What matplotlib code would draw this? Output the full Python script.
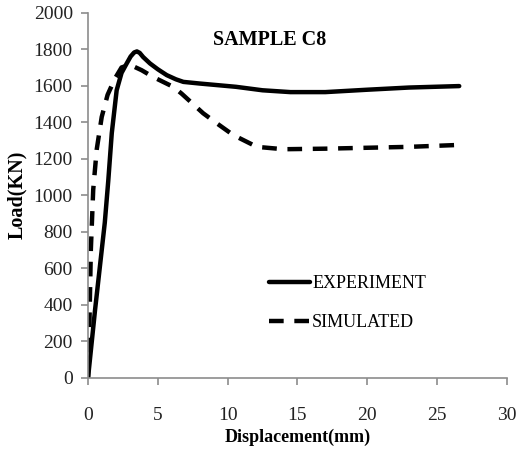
import matplotlib.pyplot as plt

# Experiment curve (displacement mm, load kN)
exp_x = [0, 0.5, 1.2, 1.45, 1.7, 2.05, 2.4, 2.77, 3.05, 3.3, 3.5, 3.7, 3.95, 4.44, 5.0, 5.64, 6.3, 6.83, 8.0, 10.6, 12.5, 14.5, 17.0, 20.0, 23.0, 26.6]
exp_y = [0, 370, 850, 1080, 1340, 1575, 1670, 1722, 1760, 1782, 1788, 1780, 1757, 1722, 1690, 1658, 1635, 1621, 1612, 1594, 1575, 1565, 1565, 1578, 1590, 1598]

# Simulated curve
sim_x = [0, 0.1, 0.2, 0.37, 0.62, 0.98, 1.4, 1.93, 2.4, 3.0, 3.84, 4.66, 6.1, 6.7, 8.25, 9.3, 10.4, 12.1, 14.0, 17.0, 20.0, 23.0, 26.4]
sim_y = [0, 300, 700, 1030, 1250, 1429, 1550, 1640, 1700, 1715, 1685, 1648, 1594, 1557, 1449, 1390, 1330, 1265, 1252, 1255, 1260, 1265, 1275]

x_ticks = [0, 5, 10, 15, 20, 25, 30]
y_ticks = [0, 200, 400, 600, 800, 1000, 1200, 1400, 1600, 1800, 2000]

plt.rcParams['font.family'] = ['Liberation Serif', 'DejaVu Serif']

fig = plt.figure(figsize=(5.21, 4.51), dpi=100)
ax = fig.add_axes([0.169, 0.1625, 0.8035, 0.8093])

ax.plot(exp_x, exp_y, color='black', lw=3.2, solid_capstyle='round',
        solid_joinstyle='round', label='EXPERIMENT')
ax.plot(sim_x, sim_y, color='black', lw=3.2, linestyle=(0, (3.3, 2.4)),
        dash_joinstyle='round', label='SIMULATED')

ax.set_xlim(0, 30)
ax.set_ylim(0, 2000)
ax.set_xticks(x_ticks)
ax.set_yticks(y_ticks)

for s in ['top', 'right']:
    ax.spines[s].set_visible(False)
for s in ['left', 'bottom']:
    ax.spines[s].set_color('#8c8c8c')
    ax.spines[s].set_linewidth(1.2)

ax.tick_params(axis='both', colors='#8c8c8c', labelcolor='#222222', labelsize=14, length=5, width=1.2)
ax.tick_params(axis='x', pad=16)
ax.tick_params(axis='y', pad=6)

ax.set_xlabel('Displacement(mm)', fontsize=13, fontweight='bold')
ax.xaxis.set_label_coords(0.5, -0.14)
ax.set_ylabel('Load(KN)', fontsize=14.5, fontweight='bold')
ax.yaxis.set_label_coords(-0.145, 0.5)

ax.text(13.0, 1850, 'SAMPLE C8', fontsize=14.5, fontweight='bold', ha='center', va='center')

ax.legend(loc='upper left', bbox_to_anchor=(0.41, 0.305), frameon=False, fontsize=13,
          handlelength=2.3, handletextpad=0.1, labelspacing=1.2, borderpad=0)

fig.savefig('out.png', dpi=100)
